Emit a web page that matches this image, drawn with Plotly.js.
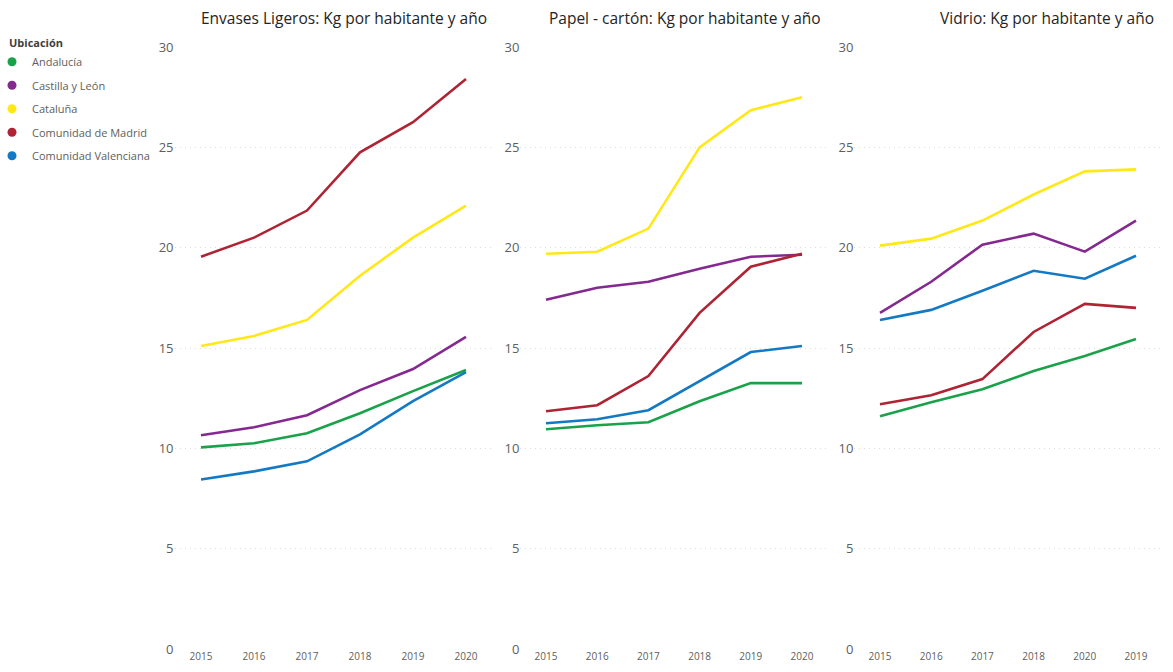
<!DOCTYPE html>
<html><head><meta charset="utf-8">
<script src="https://cdn.plot.ly/plotly-3.0.1.min.js"></script>
<style>html,body{margin:0;padding:0;background:#fff}#chart{width:1173px;height:672px}</style>
</head><body><div id="chart"></div>
<script>
const regions = ["Andalucía", "Castilla y León", "Cataluña", "Comunidad de Madrid", "Comunidad Valenciana"];
const regionColors = ["#1AA24B", "#84298F", "#FFE816", "#AF2434", "#1479C3"];

const yearsEnvases = ["2015", "2016", "2017", "2018", "2019", "2020"];
const yearsPapel = ["2015", "2016", "2017", "2018", "2019", "2020"];
const yearsVidrio = ["2015", "2016", "2017", "2018", "2020", "2019"];

const envasesAndalucia  = [10.05, 10.25, 10.75, 11.75, 12.85, 13.9];
const envasesCastilla   = [10.65, 11.05, 11.65, 12.9, 13.95, 15.55];
const envasesCataluna   = [15.1, 15.6, 16.4, 18.6, 20.5, 22.1];
const envasesMadrid     = [19.55, 20.5, 21.85, 24.75, 26.25, 28.4];
const envasesValenciana = [8.45, 8.85, 9.35, 10.7, 12.35, 13.8];

const papelAndalucia  = [10.95, 11.15, 11.3, 12.35, 13.25, 13.25];
const papelCastilla   = [17.4, 18.0, 18.3, 18.95, 19.55, 19.65];
const papelCataluna   = [19.7, 19.8, 20.95, 25.0, 26.85, 27.5];
const papelMadrid     = [11.85, 12.15, 13.6, 16.75, 19.05, 19.7];
const papelValenciana = [11.25, 11.45, 11.9, 13.35, 14.8, 15.1];

const vidrioAndalucia  = [11.6, 12.3, 12.95, 13.85, 14.6, 15.45];
const vidrioCastilla   = [16.75, 18.3, 20.15, 20.7, 19.8, 21.35];
const vidrioCataluna   = [20.1, 20.45, 21.35, 22.65, 23.8, 23.9];
const vidrioMadrid     = [12.2, 12.65, 13.45, 15.8, 17.2, 17.0];
const vidrioValenciana = [16.4, 16.9, 17.85, 18.85, 18.45, 19.6];

const panels = [
  {title: "Envases Ligeros: Kg por habitante y año", years: yearsEnvases,
   series: [envasesAndalucia, envasesCastilla, envasesCataluna, envasesMadrid, envasesValenciana]},
  {title: "Papel - cartón: Kg por habitante y año", years: yearsPapel,
   series: [papelAndalucia, papelCastilla, papelCataluna, papelMadrid, papelValenciana]},
  {title: "Vidrio: Kg por habitante y año", years: yearsVidrio,
   series: [vidrioAndalucia, vidrioCastilla, vidrioCataluna, vidrioMadrid, vidrioValenciana]}
];

const W = 1173, H = 672;
const domains = [[174.5 / W, 492.5 / W], [520.4 / W, 827.6 / W], [854.4 / W, 1161.6 / W]];
const titleRight = [489 / W, 823 / W, 1156 / W];
const FONT = "Segoe UI, 'Open Sans', 'Noto Sans', sans-serif";

const traces = [];
panels.forEach((p, pi) => {
  const ax = pi === 0 ? "" : String(pi + 1);
  p.series.forEach((vals, ri) => {
    traces.push({
      type: "scatter", mode: "lines",
      x: p.years, y: vals,
      xaxis: "x" + ax, yaxis: "y" + ax,
      name: regions[ri], legendgroup: regions[ri], showlegend: false,
      line: {color: regionColors[ri], width: 2.6},
      hovertemplate: "%{x}: %{y}<extra>" + regions[ri] + "</extra>"
    });
  });
});
regions.forEach((r, ri) => {
  traces.push({
    type: "scatter", mode: "markers", x: [null], y: [null],
    name: r, legendgroup: r, showlegend: true,
    marker: {color: regionColors[ri], size: 9, symbol: "circle"}
  });
});

const layout = {
  width: W, height: H,
  margin: {l: 0, r: 0, t: 47, b: 23, autoexpand: false},
  paper_bgcolor: "#fff", plot_bgcolor: "#fff",
  font: {family: FONT, color: "#605E5C"},
  showlegend: true,
  legend: {
    x: 7 / W, y: 1 - 33 / H, xanchor: "left", yanchor: "top", xref: "container", yref: "container",
    title: {text: "<b>Ubicación</b>", font: {size: 11, color: "#404040"}},
    font: {size: 11, color: "#605E5C"},
    tracegroupgap: 4.5, itemwidth: 30, indentation: -15,
    bgcolor: "rgba(0,0,0,0)"
  },
  annotations: panels.map((p, pi) => ({
    text: p.title, xref: "paper", yref: "paper", x: titleRight[pi], xanchor: "right",
    y: 1, yshift: 29, yanchor: "middle", showarrow: false,
    font: {size: 15.5, color: "#252423", family: FONT}
  }))
};

panels.forEach((p, pi) => {
  const ax = pi === 0 ? "" : String(pi + 1);
  layout["xaxis" + ax] = {
    domain: domains[pi], type: "category", categoryorder: "array", categoryarray: p.years,
    range: [-0.5, 5.5], anchor: "y" + ax, showgrid: false, zeroline: false, showline: false,
    ticks: "", tickfont: {size: 10, color: "#605E5C"}, fixedrange: true
  };
  layout["yaxis" + ax] = {
    domain: [0, 1], range: [0, 30], anchor: "x" + ax, tickvals: [0, 5, 10, 15, 20, 25, 30],
    showgrid: true, gridcolor: "#dcdcdc", griddash: "1px,4px", gridwidth: 1,
    zeroline: false, showline: false, ticks: "",
    tickfont: {size: 13, color: "#605E5C"}, fixedrange: true
  };
});

Plotly.newPlot("chart", traces, layout, {displayModeBar: false, staticPlot: true});
</script>
</body></html>
